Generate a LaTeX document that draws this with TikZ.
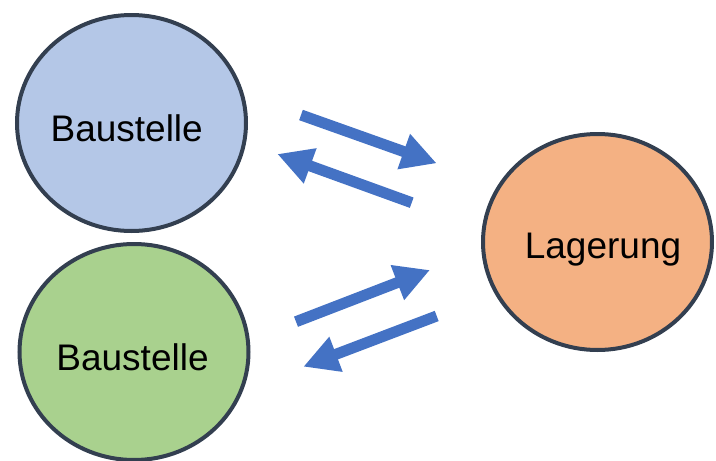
\documentclass[tikz,border=0pt]{standalone}
\usepackage{fontspec}
\setmainfont{Liberation Sans}
\usetikzlibrary{shapes.geometric,arrows.meta}
\definecolor{cblue}{HTML}{B4C7E7}
\definecolor{cgreen}{HTML}{A9D18E}
\definecolor{corange}{HTML}{F4B183}
\definecolor{cline}{HTML}{333F50}
\definecolor{carrow}{HTML}{4472C4}
\begin{document}
\begin{tikzpicture}[x=1pt,y=-1pt,
  blob/.style={ellipse,draw=cline,line width=4pt,minimum width=229pt,minimum height=216pt,inner sep=0pt},
  lbl/.style={font=\fontsize{37}{40}\selectfont,inner sep=0pt},
  bigarrow/.style={carrow,line width=11pt,-{Triangle[width=35pt,length=35pt]}}]
\useasboundingbox (0,0) rectangle (716,461);
\node[blob,fill=cblue] (b1) at (131.5,123) {};
\node[blob,fill=cgreen] (b2) at (134,352) {};
\node[blob,fill=corange] (lg) at (597.5,242) {};
\node[lbl] (t1) at (126.7,128.3) {Baustelle};
\node[lbl] (t2) at (132.5,357.5) {Baustelle};
\node[lbl] (t3) at (603,249.5) {Lagerung};
\coordinate (a1s) at (301,115);
\coordinate (a1e) at (436.7,163.3);
\coordinate (a2s) at (411.7,202.7);
\coordinate (a2e) at (277.3,154);
\coordinate (a3s) at (296,321.7);
\coordinate (a3e) at (430,270);
\coordinate (a4s) at (436.7,316);
\coordinate (a4e) at (303.3,366.7);
\draw[bigarrow] (a1s) -- (a1e);
\draw[bigarrow] (a2s) -- (a2e);
\draw[bigarrow] (a3s) -- (a3e);
\draw[bigarrow] (a4s) -- (a4e);
\end{tikzpicture}
\end{document}
